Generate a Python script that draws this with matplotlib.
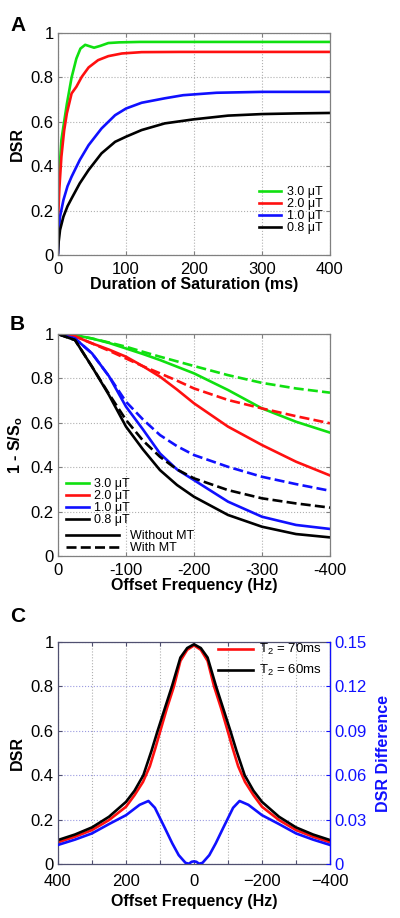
import matplotlib
matplotlib.use('Agg')
import matplotlib.pyplot as plt
from matplotlib.lines import Line2D

plt.rcParams['font.family'] = ['Liberation Sans', 'DejaVu Sans']
plt.rcParams['mathtext.fontset'] = 'custom'
plt.rcParams['mathtext.rm'] = 'Liberation Sans'
plt.rcParams['mathtext.bf'] = 'Liberation Sans:bold'
plt.rcParams['mathtext.it'] = 'Liberation Sans'

GREEN = '#10e010'
RED = '#ff1010'
BLUE = '#1010ff'
BLACK = '#000000'

# ---- panel A : DSR vs duration of saturation
a_green_t = [0, 3, 5, 8, 13, 20, 27, 33, 40, 46, 53, 62, 74, 90, 120, 200, 400]
a_green = [0.278, 0.42, 0.518, 0.58, 0.68, 0.80, 0.885, 0.93, 0.947, 0.941, 0.934, 0.942, 0.955, 0.958, 0.96, 0.96, 0.96]
a_red_t = [0, 2, 5, 9, 13, 20, 27, 35, 45, 59, 74, 94, 123, 180, 400]
a_red = [0.15, 0.30, 0.443, 0.56, 0.638, 0.728, 0.758, 0.803, 0.845, 0.878, 0.896, 0.908, 0.914, 0.915, 0.915]
a_blue_t = [0, 1, 3, 8, 14, 20, 32, 45, 64, 84, 100, 123, 157, 184, 233, 300, 400]
a_blue = [0.008, 0.10, 0.173, 0.248, 0.31, 0.353, 0.428, 0.495, 0.57, 0.63, 0.66, 0.686, 0.706, 0.72, 0.731, 0.735, 0.735]
a_black_t = [0, 1, 3, 8, 14, 20, 32, 45, 64, 84, 100, 123, 157, 199, 250, 300, 350, 400]
a_black = [0.008, 0.06, 0.113, 0.173, 0.22, 0.255, 0.323, 0.383, 0.458, 0.51, 0.533, 0.563, 0.593, 0.611, 0.628, 0.635, 0.638, 0.64]
b1_labels = ['3.0 \u03bcT', '2.0 \u03bcT', '1.0 \u03bcT', '0.8 \u03bcT']

# ---- panel B : 1 - S/So vs offset, without / with MT
b_freq = [0, -25, -50, -75, -100, -125, -150, -175, -200, -250, -300, -350, -400]
b_green = [1, 0.995, 0.98, 0.96, 0.935, 0.91, 0.883, 0.853, 0.823, 0.748, 0.665, 0.605, 0.556]
b_green_mt = [1, 0.995, 0.98, 0.962, 0.943, 0.92, 0.898, 0.877, 0.856, 0.815, 0.78, 0.755, 0.736]
b_red = [1, 0.99, 0.958, 0.93, 0.898, 0.855, 0.808, 0.75, 0.688, 0.583, 0.50, 0.425, 0.363]
b_red_mt = [1, 0.99, 0.958, 0.925, 0.89, 0.855, 0.823, 0.79, 0.755, 0.703, 0.665, 0.63, 0.598]
b_blue = [1, 0.98, 0.913, 0.81, 0.673, 0.57, 0.462, 0.39, 0.342, 0.245, 0.177, 0.14, 0.122]
b_blue_mt = [1, 0.98, 0.913, 0.81, 0.695, 0.615, 0.545, 0.495, 0.455, 0.402, 0.357, 0.324, 0.294]
b_black = [1, 0.973, 0.853, 0.725, 0.583, 0.48, 0.387, 0.32, 0.267, 0.185, 0.132, 0.099, 0.084]
b_black_mt = [1, 0.973, 0.853, 0.73, 0.613, 0.52, 0.447, 0.39, 0.35, 0.297, 0.26, 0.237, 0.218]

# ---- panel C : DSR for two T2, and their difference
c70_freq = [400, 350, 300, 250, 200, 175, 150, 130, 114, 99, 80, 59, 40, 20, 0,
            -20, -40, -59, -80, -99, -114, -130, -150, -175, -200, -250, -300, -350, -400]
c_t2_70 = [0.098, 0.123, 0.153, 0.198, 0.258, 0.31, 0.37, 0.44, 0.52, 0.60, 0.70, 0.80, 0.915, 0.965, 0.985,
           0.965, 0.915, 0.80, 0.70, 0.60, 0.52, 0.44, 0.37, 0.31, 0.258, 0.198, 0.153, 0.123, 0.098]
c60_freq = [400, 350, 300, 250, 200, 175, 149, 125, 107, 85, 65, 40, 20, 0,
            -20, -40, -65, -85, -107, -125, -149, -175, -200, -250, -300, -350, -400]
c_t2_60 = [0.108, 0.133, 0.165, 0.213, 0.28, 0.33, 0.40, 0.51, 0.60, 0.705, 0.80, 0.93, 0.973, 0.99,
           0.973, 0.93, 0.80, 0.705, 0.60, 0.51, 0.40, 0.33, 0.28, 0.213, 0.165, 0.133, 0.108]
c_diff_freq = [400, 350, 300, 250, 200, 160, 134, 115, 100, 85, 64, 45, 25, 15, 7, 0,
               -7, -15, -25, -45, -64, -85, -100, -115, -134, -160, -200, -250, -300, -350, -400]
c_diff = [0.0129, 0.0165, 0.0207, 0.027, 0.033, 0.040, 0.0426, 0.038, 0.031, 0.024, 0.014, 0.006, 0.0008, 0.0002, 0.0015, 0.0018,
          0.0015, 0.0002, 0.0008, 0.006, 0.014, 0.024, 0.031, 0.038, 0.0426, 0.040, 0.033, 0.027, 0.0207, 0.0165, 0.0129]

fig = plt.figure(figsize=(4, 9.18), dpi=100)
lw = 1.9
dash = (0, (3.8, 1.6))
frame = '#808080'


def style(ax, col=frame):
    for s in ax.spines.values():
        s.set_color(col)
        s.set_linewidth(0.9)
    ax.tick_params(direction='in', length=3, labelsize=12, colors=col, labelcolor='black',
                   top=True, right=True, pad=3)
    ax.tick_params(axis='x', pad=5)
    ax.grid(True, linestyle=':', color='#b0b0b0', linewidth=0.8)
    ax.set_axisbelow(True)


# A
axA = fig.add_axes([0.145, 0.7222, 0.68, 0.2418])
style(axA)
axA.plot(a_green_t, a_green, color=GREEN, lw=lw, label=b1_labels[0])
axA.plot(a_red_t, a_red, color=RED, lw=lw, label=b1_labels[1])
axA.plot(a_blue_t, a_blue, color=BLUE, lw=lw, label=b1_labels[2])
axA.plot(a_black_t, a_black, color=BLACK, lw=lw, label=b1_labels[3])
axA.set_xlim(0, 400)
axA.set_ylim(0, 1)
axA.set_xticks([0, 100, 200, 300, 400])
axA.set_yticks([0, 0.2, 0.4, 0.6, 0.8, 1])
axA.set_yticklabels(['0', '0.2', '0.4', '0.6', '0.8', '1'])
axA.set_xlabel('Duration of Saturation (ms)', fontsize=11.5, fontweight='bold', labelpad=0)
axA.set_ylabel('DSR', fontsize=11.5, fontweight='bold', labelpad=4)
axA.legend(loc='lower right', bbox_to_anchor=(1.0, 0.06), frameon=False, fontsize=9,
           handlelength=1.7, handletextpad=0.5, labelspacing=0.0, borderaxespad=0.2)
fig.text(0.025, 0.983, 'A', fontsize=15, fontweight='bold', va='top')

# B
axB = fig.add_axes([0.145, 0.3943, 0.68, 0.2418])
style(axB)
axB.plot(b_freq, b_green, color=GREEN, lw=lw)
axB.plot(b_freq, b_green_mt, color=GREEN, lw=lw, ls=dash)
axB.plot(b_freq, b_red, color=RED, lw=lw)
axB.plot(b_freq, b_red_mt, color=RED, lw=lw, ls=dash)
axB.plot(b_freq, b_blue, color=BLUE, lw=lw)
axB.plot(b_freq, b_blue_mt, color=BLUE, lw=lw, ls=dash)
axB.plot(b_freq, b_black, color=BLACK, lw=lw)
axB.plot(b_freq, b_black_mt, color=BLACK, lw=lw, ls=dash)
axB.set_xlim(0, -400)
axB.set_ylim(0, 1)
axB.set_xticks([0, -100, -200, -300, -400])
axB.set_xticklabels(['0', '-100', '-200', '-300', '-400'])
axB.set_yticks([0, 0.2, 0.4, 0.6, 0.8, 1])
axB.set_yticklabels(['0', '0.2', '0.4', '0.6', '0.8', '1'])
axB.set_xlabel('Offset Frequency (Hz)', fontsize=11.5, fontweight='bold', labelpad=0)
axB.set_ylabel(r'1 - S/S$_\mathbf{o}$', fontsize=11.5, fontweight='bold', labelpad=4)
col_handles = [Line2D([], [], color=c, lw=lw) for c in (GREEN, RED, BLUE, BLACK)]
legB1 = axB.legend(col_handles, b1_labels, loc='lower left', bbox_to_anchor=(0.0, 0.10),
                   frameon=False, fontsize=9, handlelength=1.9, handletextpad=0.4,
                   labelspacing=0.0, borderaxespad=0.2)
axB.add_artist(legB1)
mt_handles = [Line2D([], [], color=BLACK, lw=lw), Line2D([], [], color=BLACK, lw=lw, ls=dash)]
axB.legend(mt_handles, ['Without MT', 'With MT'], loc='lower left', bbox_to_anchor=(0.0, -0.025),
           frameon=False, fontsize=9, handlelength=4.3, handletextpad=0.9,
           labelspacing=0.0, borderaxespad=0.2)
fig.text(0.025, 0.657, 'B', fontsize=15, fontweight='bold', va='top')

# C
axC = fig.add_axes([0.145, 0.0588, 0.68, 0.2418])
style(axC, col='#505070')
axC.grid(False)
axC.xaxis.grid(True, linestyle=':', color='#b0b0b0', linewidth=0.8)
axC.yaxis.grid(True, linestyle=':', color='#9a9ae0', linewidth=0.8)
axC.tick_params(right=False)
axC.tick_params(axis='x', pad=7)
axC.plot(c70_freq, c_t2_70, color=RED, lw=lw, label=r'T$_2$ = 70ms')
axC.plot(c60_freq, c_t2_60, color=BLACK, lw=lw, label=r'T$_2$ = 60ms')
axC.set_xlim(400, -400)
axC.set_ylim(0, 1)
axC.set_xticks([400, 300, 200, 100, 0, -100, -200, -300, -400])
axC.set_xticklabels(['400', '', '200', '', '0', '', '\u2212200', '', '\u2212400'])
axC.set_yticks([0, 0.2, 0.4, 0.6, 0.8, 1])
axC.set_yticklabels(['0', '0.2', '0.4', '0.6', '0.8', '1'])
axC.set_xlabel('Offset Frequency (Hz)', fontsize=11.5, fontweight='bold', labelpad=4)
axC.set_ylabel('DSR', fontsize=11.5, fontweight='bold', labelpad=4)
axC.legend(loc='upper right', bbox_to_anchor=(1.0, 1.035), frameon=False, fontsize=9.5,
           handlelength=2.6, handletextpad=0.5, labelspacing=0.45, borderaxespad=0.2)

axC2 = axC.twinx()
axC2.plot(c_diff_freq, c_diff, color=BLUE, lw=lw)
axC2.set_ylim(0, 0.15)
axC2.set_yticks([0, 0.03, 0.06, 0.09, 0.12, 0.15])
axC2.set_yticklabels(['0', '0.03', '0.06', '0.09', '0.12', '0.15'])
axC2.tick_params(direction='in', length=3, labelsize=12, colors=BLUE, pad=3)
axC2.spines['right'].set_color(BLUE)
axC2.spines['right'].set_linewidth(0.9)
for s in ('left', 'top', 'bottom'):
    axC2.spines[s].set_visible(False)
axC2.set_ylabel('DSR Difference', fontsize=11.5, fontweight='bold', color=BLUE, labelpad=7)
fig.text(0.025, 0.339, 'C', fontsize=15, fontweight='bold', va='top')

fig.savefig('out.png', dpi=100)
